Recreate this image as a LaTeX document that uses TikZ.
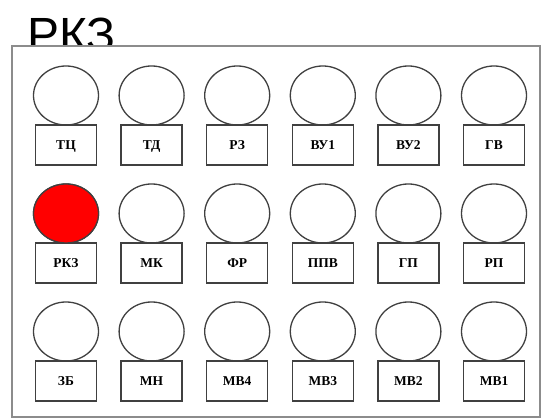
\documentclass[tikz,border=0pt]{standalone}
\usepackage{fontspec}
\setmainfont{Liberation Serif}
\newfontfamily\rotulo{Liberation Sans}
\usetikzlibrary{shapes.geometric,positioning}
\begin{document}
\begin{tikzpicture}[x=1pt, y=1pt,
  lampara/.style={ellipse, draw=black!75, line width=1.3pt, fill=white,
    minimum width=65pt, minimum height=59pt, inner sep=0pt, outer sep=0pt},
  placa/.style={rectangle, draw=black!75, line width=1.3pt,
    minimum width=61pt, minimum height=40pt, inner sep=0pt, outer sep=0pt,
    text height=9.5pt, text depth=0pt,
    font=\bfseries\fontsize{13.5}{13.5}\selectfont},
  marco/.style={draw=black!45, line width=2pt, fill=white}]
  \colorlet{encendida}{red}
  \useasboundingbox (0,0) rectangle (544,419);
  \node[anchor=base west, inner sep=0pt,
    font=\rotulo\fontsize{48}{48}\selectfont] (titulo) at (27,367) {РКЗ};
  \draw[marco] (12,373) rectangle (540,2); % Panel
  \foreach \fila/\lista in {0/{ТЦ,ТД,РЗ,ВУ1,ВУ2,ГВ},
    1/{РКЗ,МК,ФР,ППВ,ГП,РП}, 2/{ЗБ,МН,МВ4,МВ3,МВ2,МВ1}} {
    \foreach \nombre [count=\col] in \lista {
      \node[lampara] (l-\fila-\col) at ({66+85.6*(\col-1)}, {323.5-118*\fila}) {};
      \node[placa, below=0pt of l-\fila-\col] (p-\fila-\col) {\nombre};
    }
  }
  \node[lampara, fill=encendida] (l-on) at (l-1-1) {}; % Lampara RKZ activa
\end{tikzpicture}
\end{document}
